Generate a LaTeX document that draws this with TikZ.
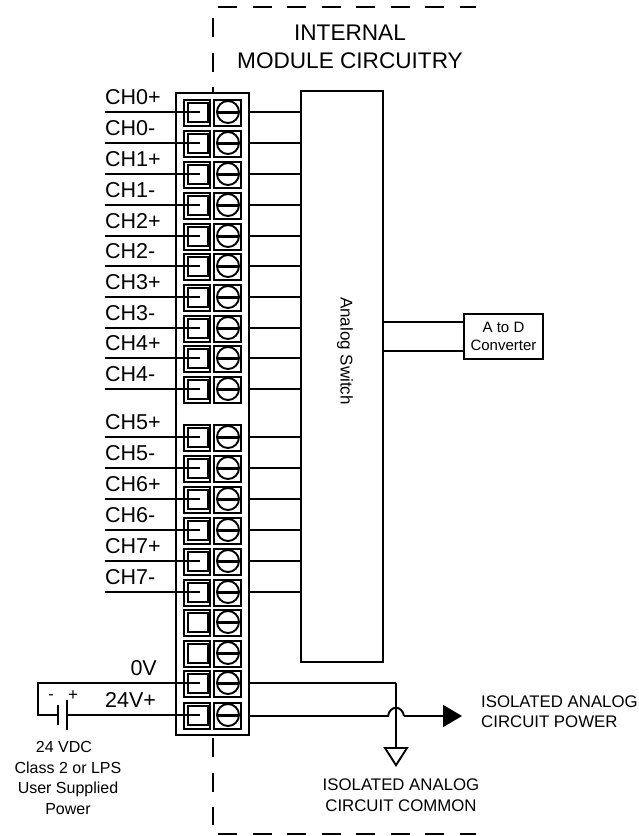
\documentclass[tikz,border=0pt]{standalone}
\usepackage{fontspec}
\setmainfont{Liberation Sans}
\usetikzlibrary{arrows.meta}
\tikzset{
  wire/.style={line width=1.9pt},
  dashbound/.style={line width=2.4pt,dash pattern=on 19pt off 15.5pt},
  clampbox/.style={draw,line width=2pt,minimum width=26pt,minimum height=26pt,inner sep=0pt,outer sep=0pt},
  screwbox/.style={draw,line width=2pt,minimum width=27pt,minimum height=26pt,inner sep=0pt,outer sep=0pt},
  squarebox/.style={draw,line width=2pt,minimum width=20pt,minimum height=19pt,inner sep=0pt,outer sep=0pt},
  screwhead/.style={draw,circle,line width=1.9pt,minimum size=22pt,inner sep=0pt,outer sep=0pt},
  chlabel/.style={anchor=base west,inner sep=0pt,font=\fontsize{21.5}{21.5}\selectfont},
  plainbox/.style={draw,line width=1.7pt,inner sep=0pt,outer sep=0pt},
  note/.style={align=center,inner sep=0pt,font=\fontsize{16}{20.5}\selectfont},
  isolabel/.style={inner sep=0pt,font=\fontsize{16.8}{20.5}\selectfont}
}
\begin{document}
\begin{tikzpicture}[x=1pt,y=-1pt]
	\useasboundingbox (0,0) rectangle (639,836);

	% module boundary
	\coordinate (bt1) at (218,7);
	\coordinate (bt2) at (476,7);
	\coordinate (bl1) at (213,18);
	\coordinate (bl2) at (213,93);
	\coordinate (bl3) at (213,738);
	\coordinate (bl4) at (213,825);
	\coordinate (bb1) at (218,834);
	\coordinate (bb2) at (476,834);
	\draw[dashbound] (bt1) -- (bt2);
	\draw[dashbound] (bl1) -- (bl2);
	\draw[dashbound] (bl3) -- (bl4);
	\draw[dashbound] (bb1) -- (bb2);

	\node[inner sep=0pt,align=center,font=\fontsize{22.6}{27.5}\selectfont] (title) at (350,47) {INTERNAL\\MODULE CIRCUITRY};

	% terminal block
	\node[draw,line width=2.8pt,minimum width=73pt,minimum height=642pt,inner sep=0pt,outer sep=0pt] (strip) at (212.5,414) {};
	\node[plainbox,minimum width=82pt,minimum height=571pt] (sw) at (342,376.5) {};
	\node[rotate=-90,inner sep=0pt,font=\fontsize{17}{17}\selectfont] (swlabel) at (345,351) {Analog Switch};

	\foreach \i/\y in {0/112,1/143,2/174,3/205,4/236,5/266,6/297,7/328,8/358,9/389,
	                   10/437,11/468,12/499,13/530,14/561,15/592,16/622,17/653,18/683,19/715}{
	  \node[clampbox] (clamp\i) at (197,{\y+1}) {};
	  \node[squarebox] (sq\i) at (198,{\y+0.5}) {};
	  \node[screwbox] (screwcell\i) at (227.5,{\y+1}) {};
	  \node[screwhead] (screw\i) at (228,\y) {};
	  \draw[line width=3pt] (screw\i.west) -- (screw\i.east);
	  \coordinate (tip\i) at (200,\y);
	}

	% channel wiring
	\foreach \i/\lab in {0/CH0+,1/CH0-,2/CH1+,3/CH1-,4/CH2+,5/CH2-,6/CH3+,7/CH3-,8/CH4+,9/CH4-,
	                     10/CH5+,11/CH5-,12/CH6+,13/CH6-,14/CH7+,15/CH7-}{
	  \coordinate (in\i) at (105,0 |- tip\i);
	  \path (tip\i) ++(-95,-8) node[chlabel] (lab\i) {\lab};
	  \draw[wire] (tip\i -| in\i) -- (tip\i);
	  \draw[wire] (tip\i -| strip.east) -- (tip\i -| sw.west);
	}

	% A to D
	\node[plainbox,minimum width=79pt,minimum height=45pt,align=center,font=\fontsize{15}{18.5}\selectfont] (adc) at (503.5,336.5) {A to D\\Converter};
	\coordinate (adup) at (464,322);
	\coordinate (adlo) at (464,351);
	\draw[wire] (adup -| sw.east) -- (adup);
	\draw[wire] (adlo -| sw.east) -- (adlo);

	% supply
	\coordinate (loopt) at (38,683);
	\coordinate (loopb) at (38,715);
	\coordinate (neg) at (58,715);
	\coordinate (pos) at (67,715);
	\draw[wire] (tip18) -- (loopt) -- (loopb) -- (neg);
	\draw[wire] (pos) -- (tip19);
	\draw[wire] (58,705) -- (58,725);
	\draw[wire] (67,700) -- (67,730);
	\node[inner sep=0pt,font=\fontsize{16}{16}\selectfont] (minus) at (51,697) {-};
	\node[inner sep=0pt,font=\fontsize{17}{17}\selectfont] (plus) at (73,696) {+};
	\node[chlabel,anchor=base east] (lab18) at (157,675) {0V};
	\node[chlabel] (lab19) at (105,707) {24V+};
	\node[note] (supply) at (68,778) {24 VDC\hspace*{8pt}\\Class 2 or LPS\\User Supplied\\Power};

	% isolated outputs
	\coordinate (rt) at (396,683);
	\coordinate (gnd) at (396,767);
	\coordinate (hopa) at (388,716);
	\coordinate (hopb) at (404,716);
	\coordinate (arrowtip) at (462,716);
	\draw[wire] (tip18 -| strip.east) -- (rt);
	\draw[wire,-{Triangle[open,length=20pt,width=25pt,line width=1.9pt]}] (rt) -- (gnd);
	\draw[wire] (hopa -| strip.east) -- (hopa) .. controls (390,705) and (402,705) .. (hopb);
	\draw[wire,-{Triangle[length=19pt,width=22pt]}] (hopb) -- (arrowtip);

	\node[isolabel,anchor=west,align=left] (isopower) at (481,711.5) {ISOLATED ANALOG\\CIRCUIT POWER};
	\node[isolabel,align=center] (isocommon) at (401,795) {ISOLATED ANALOG\\CIRCUIT COMMON};
\end{tikzpicture}
\end{document}
